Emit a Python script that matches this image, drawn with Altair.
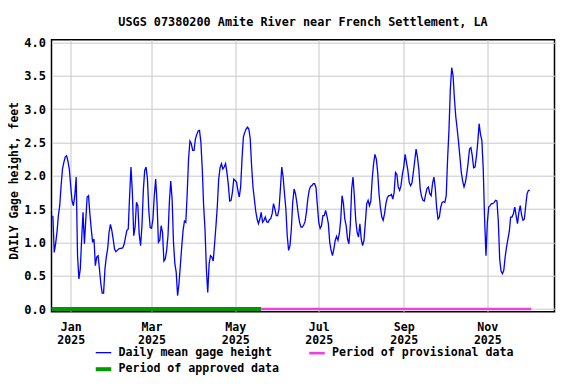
import altair as alt
import pandas as pd

TITLE = "USGS 07380200 Amite River near French Settlement, LA"
Y_TITLE = "DAILY Gage height, feet"
START_DATE = "2024-12-19"

# Daily mean gage height, feet (one value per day from START_DATE)
gage_height = [
    1.40, 0.85, 0.98, 1.15, 1.40, 1.55, 1.85, 2.10, 2.20, 2.28,
    2.30, 2.22, 2.10, 1.85, 1.62, 1.55, 1.70, 1.98, 0.80, 0.45,
    0.60, 1.05, 1.45, 0.98, 1.33, 1.68, 1.70, 1.43, 1.20, 1.00,
    1.05, 0.65, 0.78, 0.80, 0.60, 0.38, 0.24, 0.24, 0.60, 0.78,
    0.91, 1.15, 1.27, 1.18, 1.05, 0.90, 0.86, 0.88, 0.90, 0.91,
    0.91, 0.92, 0.97, 1.08, 1.18, 1.20, 1.70, 2.13, 1.75, 1.10,
    1.23, 1.60, 1.55, 1.12, 0.95, 1.25, 1.78, 2.08, 2.13, 1.95,
    1.48, 1.22, 1.21, 1.35, 1.70, 1.95, 1.60, 1.00, 1.03, 1.25,
    1.15, 0.72, 0.75, 0.88, 1.10, 1.60, 1.92, 1.65, 1.00, 0.68,
    0.55, 0.20, 0.38, 0.65, 0.93, 1.18, 1.32, 1.30, 1.73, 2.25,
    2.52, 2.48, 2.38, 2.38, 2.55, 2.62, 2.67, 2.68, 2.50, 2.10,
    1.55, 1.20, 0.60, 0.25, 0.68, 0.80, 0.78, 0.72, 0.98, 1.25,
    1.55, 1.95, 2.12, 2.18, 2.10, 2.13, 2.18, 2.05, 1.87, 1.62,
    1.63, 1.75, 1.95, 1.93, 1.90, 1.78, 1.68, 1.83, 2.25, 2.58,
    2.65, 2.70, 2.73, 2.70, 2.55, 2.15, 1.83, 1.65, 1.47, 1.35,
    1.28, 1.35, 1.45, 1.30, 1.33, 1.38, 1.31, 1.30, 1.34, 1.36,
    1.43, 1.58, 1.50, 1.40, 1.40, 1.50, 1.80, 2.13, 1.98, 1.73,
    1.50, 1.10, 0.88, 0.95, 1.20, 1.60, 1.80, 1.73, 1.60, 1.43,
    1.30, 1.23, 1.23, 1.26, 1.31, 1.45, 1.65, 1.78, 1.84, 1.85,
    1.88, 1.88, 1.82, 1.55, 1.30, 1.21, 1.25, 1.40, 1.40, 1.48,
    1.39, 1.28, 1.00, 0.88, 0.80, 0.90, 1.03, 1.09, 1.03, 1.13,
    1.33, 1.70, 1.58, 1.35, 1.25, 1.05, 0.98, 1.25, 1.80, 1.98,
    1.68, 1.33, 1.15, 1.08, 1.28, 1.05, 0.95, 1.03, 1.30, 1.58,
    1.63, 1.55, 1.62, 1.95, 2.18, 2.32, 2.25, 2.05, 1.72, 1.52,
    1.38, 1.33, 1.43, 1.58, 1.67, 1.70, 1.70, 1.72, 1.65, 1.75,
    2.05, 2.02, 1.83, 1.78, 1.85, 2.02, 2.13, 2.32, 2.20, 2.08,
    1.90, 1.85, 1.89, 2.05, 2.22, 2.40, 2.28, 2.10, 1.80, 1.69,
    1.63, 1.62, 1.72, 1.81, 1.83, 1.73, 1.70, 1.88, 1.98, 1.82,
    1.52, 1.35, 1.38, 1.53, 1.60, 1.61, 1.60, 1.70, 2.25, 2.68,
    3.30, 3.62, 3.50, 3.15, 2.88, 2.70, 2.50, 2.28, 2.05, 1.92,
    1.83, 1.90, 2.03, 2.20, 2.40, 2.42, 2.30, 2.12, 2.13, 2.28,
    2.50, 2.78, 2.62, 2.53, 2.10, 1.35, 0.80, 1.30, 1.53, 1.55,
    1.58, 1.58, 1.60, 1.63, 1.62, 1.32, 0.75, 0.57, 0.53, 0.58,
    0.78, 0.93, 1.05, 1.16, 1.38, 1.38, 1.43, 1.53, 1.40, 1.28,
    1.45, 1.55, 1.41, 1.33, 1.35, 1.55, 1.73, 1.78, 1.78,
]

series_names = ["Daily mean gage height", "Period of provisional data", "Period of approved data"]
series_colors = ["#0000ff", "#ee40dd", "#009a00"]
series_widths = [1.3, 4, 4]

period_names = ["Period of approved data", "Period of provisional data"]
period_starts = ["2024-12-18", "2025-05-20"]
period_ends = ["2025-05-20", "2025-12-03"]

y_ticks = [0.0, 0.5, 1.0, 1.5, 2.0, 2.5, 3.0, 3.5, 4.0]
x_tick_months = [(2025, 1), (2025, 3), (2025, 5), (2025, 7), (2025, 9), (2025, 11)]

FONT = "DejaVu Sans Mono"

dates = pd.date_range(START_DATE, periods=len(gage_height), freq="D").strftime("%Y-%m-%d")
daily = pd.DataFrame({"date": list(dates), "value": gage_height, "series": series_names[0]})
periods = pd.DataFrame({"start": period_starts, "end": period_ends, "series": period_names})

x_scale = alt.Scale(
    type="utc",
    domain=[alt.DateTime(year=2024, month=12, date=18, utc=True),
            alt.DateTime(year=2025, month=12, date=20, utc=True)],
)
x_axis = alt.Axis(
    values=[alt.DateTime(year=y, month=m, date=1, utc=True) for y, m in x_tick_months],
    labelExpr="[utcFormat(datum.value, '%b'), utcFormat(datum.value, '%Y')]",
    title=None, ticks=False, domain=False, grid=True,
    labelPadding=10, labelLineHeight=12.4, labelFontSize=11.6,
)
y_scale = alt.Scale(domain=[-0.04, 4.04], nice=False, zero=False)
y_axis = alt.Axis(
    values=y_ticks, format=".1f", title=Y_TITLE, ticks=False, domain=False, grid=True,
    labelPadding=6, labelFontSize=12, labelOverlap=False,
    titlePadding=4, titleY=140.7, titleFontSize=11.4,
)

legend = alt.Legend(
    title=None, orient="none", legendX=42, legendY=303.5, columns=2, direction="horizontal",
    columnPadding=23.5, rowPadding=0, symbolType="stroke", symbolSize=240,
    labelFont=FONT, labelFontSize=11.6, labelFontWeight="bold", labelColor="black",
    labelOffset=5, labelLimit=400, padding=0,
)
color = alt.Color("series:N", scale=alt.Scale(domain=series_names, range=series_colors), legend=legend)
width = alt.StrokeWidth("series:N", scale=alt.Scale(domain=series_names, range=series_widths), legend=legend)

line = alt.Chart(daily).mark_line(interpolate="linear").encode(
    x=alt.X("date:T", scale=x_scale, axis=x_axis),
    y=alt.Y("value:Q", scale=y_scale, axis=y_axis),
    color=color,
    strokeWidth=width,
)

bars = alt.Chart(periods).mark_rule(strokeCap="butt").encode(
    x=alt.X("start:T", scale=x_scale, axis=x_axis),
    x2="end:T",
    y=alt.Y(datum=0.0, scale=y_scale, axis=y_axis),
    color=color,
    strokeWidth=width,
)

chart = alt.layer(line, bars).properties(
    width=503, height=272,
    title=alt.Title(TITLE, font=FONT, fontSize=11.8, fontWeight="bold", color="black",
                    anchor="middle", offset=8),
    autosize=alt.AutoSizeParams(type="none"),
    padding={"left": 43.5, "top": 31.7, "right": 13, "bottom": 64.3},
    background="white",
).configure_axis(
    labelFont=FONT, labelFontWeight="bold", labelColor="black",
    titleFont=FONT, titleFontWeight="bold", titleColor="black",
    gridColor="#c8c8c8", gridWidth=1,
).configure_view(stroke="black", strokeWidth=1.5)

chart.save("out.html", embed_options={"renderer": "svg", "actions": False})
